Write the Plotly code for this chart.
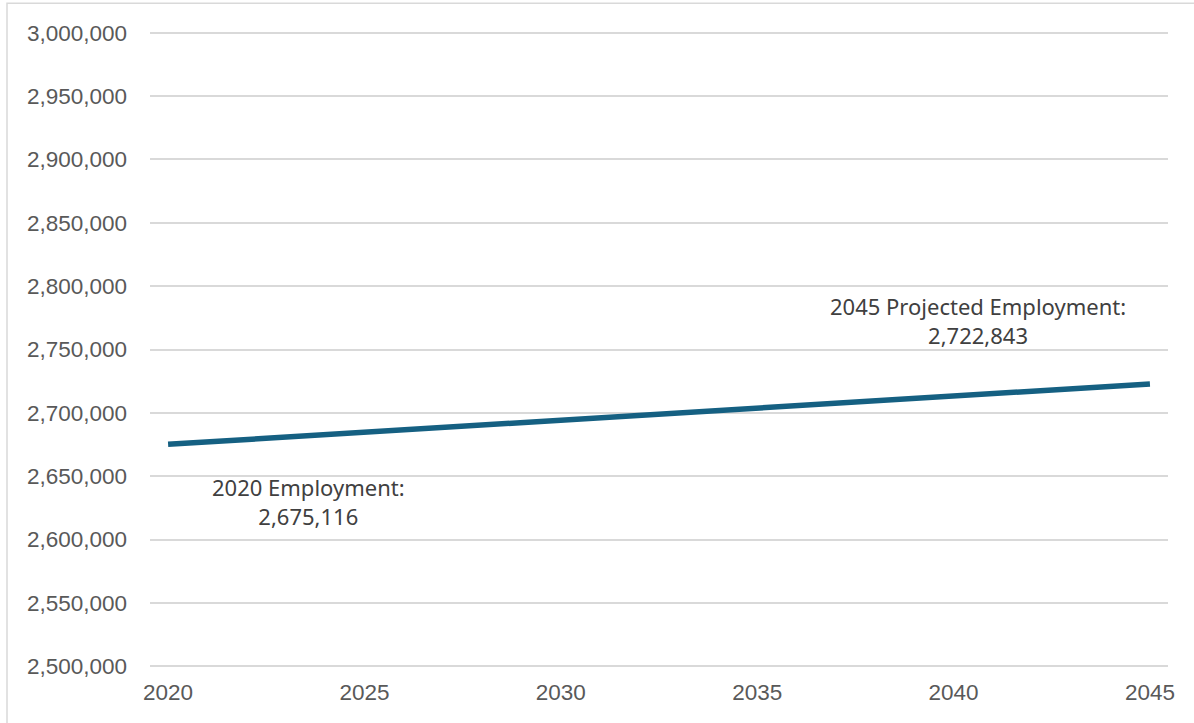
import plotly.graph_objects as go

years = [2020, 2045]
employment = [2675116, 2722843]
y_ticks = [2500000, 2550000, 2600000, 2650000, 2700000, 2750000, 2800000, 2850000, 2900000, 2950000, 3000000]
x_ticks = [2020, 2025, 2030, 2035, 2040, 2045]
ann_texts = ["2020 Employment:<br>2,675,116", "2045 Projected Employment:<br>2,722,843"]

W, H = 1194, 723
# target pixel positions: 3,000,000 at y=33, 2,500,000 at y=666
Y_TOP_PX, Y_BOT_PX = 33, 666
Y_MIN, Y_MAX = 2497000, 3003000
ppu = (Y_BOT_PX - Y_TOP_PX) / 500000
T = Y_TOP_PX - (Y_MAX - 3000000) * ppu
Bpx = Y_BOT_PX + (2500000 - Y_MIN) * ppu
L, R = 150, 26
B = H - Bpx
pw, ph = W - L - R, Bpx - T

def px(x):
    return (x - L) / pw

def py(y):
    return (Bpx - y) / ph

fig = go.Figure()
fig.add_trace(go.Scatter(
    x=years, y=employment, mode="lines",
    line=dict(color="#156082", width=5.5),
    hoverinfo="skip", showlegend=False,
))

tickfont = dict(family="Liberation Sans, Arial", size=22.5, color="#595959")
annfont = dict(family="Noto Sans", size=22, color="#404040")

fig.update_layout(
    width=W, height=H,
    margin=dict(l=L, r=R, t=T, b=B, pad=0),
    paper_bgcolor="white", plot_bgcolor="white",
    showlegend=False,
    xaxis=dict(
        range=[2019.54, 2045.46], tickvals=x_ticks,
        ticktext=[str(v) for v in x_ticks],
        showgrid=False, zeroline=False, showline=False, ticks="",
        tickfont=tickfont, ticklabelstandoff=int(round(10 - (Bpx - Y_BOT_PX))),
    ),
    yaxis=dict(
        range=[Y_MIN, Y_MAX], tickvals=y_ticks,
        ticktext=[f"{v:,}" for v in y_ticks],
        showgrid=True, gridcolor="#D9D9D9", gridwidth=1.8,
        zeroline=False, showline=False, ticks="",
        tickfont=tickfont, ticklabelstandoff=22,
    ),
    shapes=[dict(
        type="rect", xref="paper", yref="paper",
        x0=px(7), x1=px(1240), y0=py(760), y1=py(3.5),
        line=dict(color="#D9D9D9", width=1.5), fillcolor="rgba(0,0,0,0)", layer="below",
    )],
    annotations=[
        dict(text=ann_texts[0], x=px(308), y=py(501), xref="paper", yref="paper",
             xanchor="center", yanchor="middle",
             showarrow=False, align="center", font=annfont),
        dict(text=ann_texts[1], x=px(978), y=py(321), xref="paper", yref="paper",
             xanchor="center", yanchor="middle",
             showarrow=False, align="center", font=annfont),
    ],
)

fig.write_html("out.html", config={"displayModeBar": False},
               post_script="document.body.style.margin='0';document.body.style.padding='0';")
